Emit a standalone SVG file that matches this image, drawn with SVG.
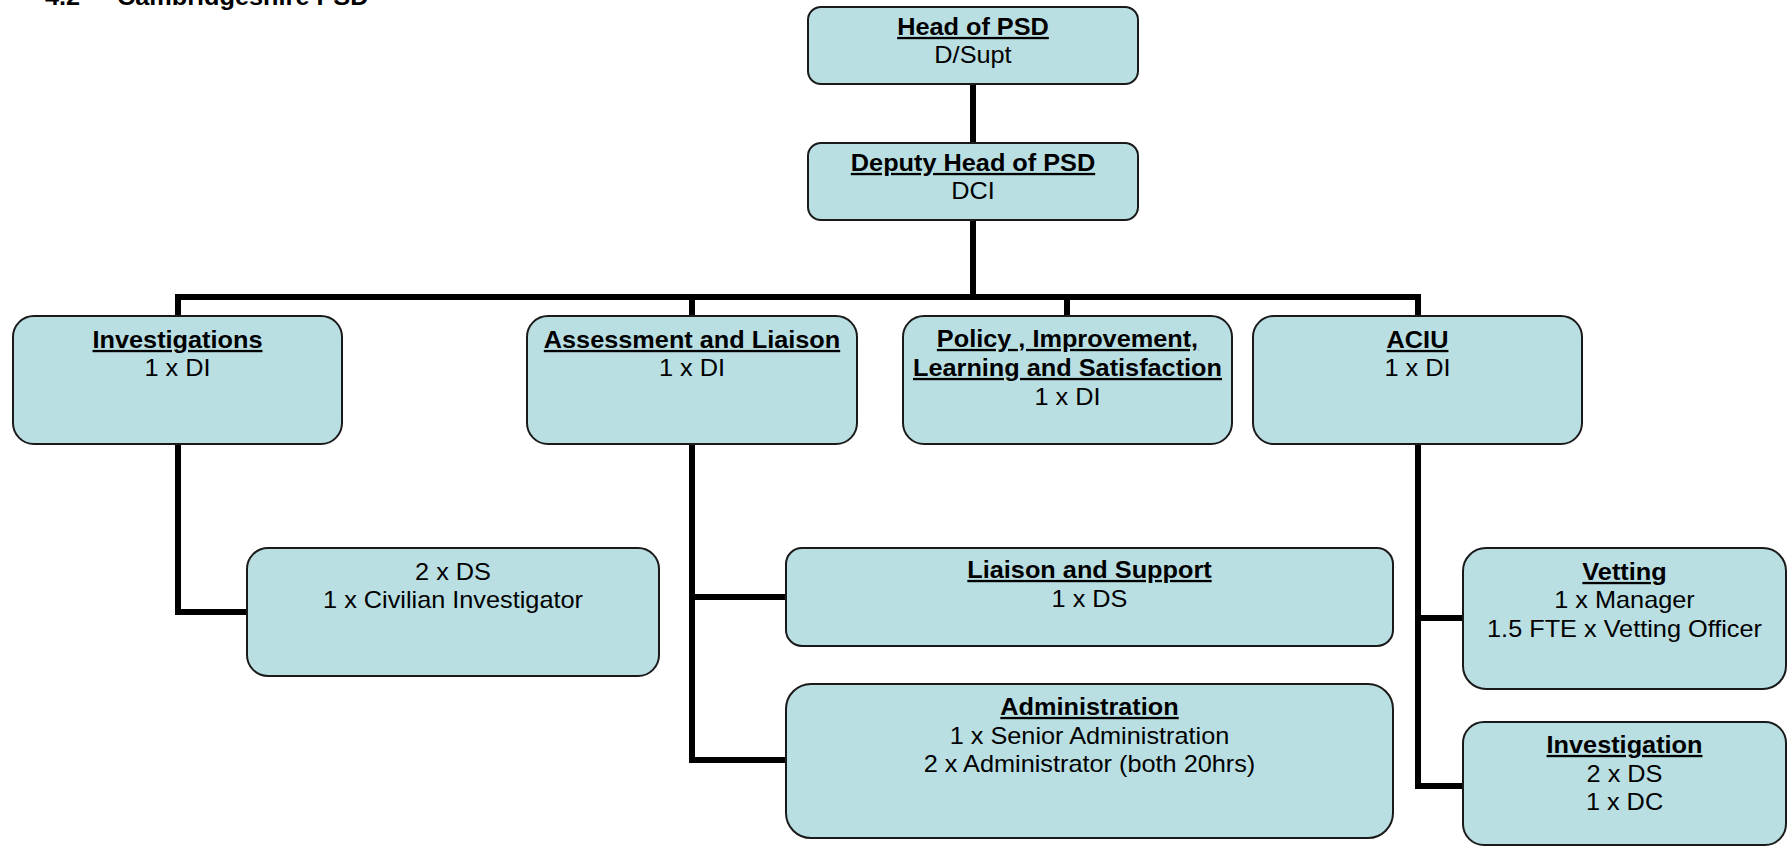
<svg xmlns="http://www.w3.org/2000/svg" width="1787" height="847" viewBox="0 0 1787 847">
<style>
.box{fill:#B9DFE3;stroke:#1a1a1a;stroke-width:2}
.t{font-family:"Liberation Sans",Arial,sans-serif;font-size:23px;fill:#000;text-anchor:middle}
.h{font-weight:bold;text-decoration:underline}
.ttl{font-family:"Liberation Sans",Arial,sans-serif;font-size:23px;font-weight:bold;fill:#000}
.c{fill:none;stroke:#000;stroke-width:6;stroke-linejoin:miter;stroke-linecap:butt}
</style>
<rect width="1787" height="847" fill="#fff"/>
<g id="title">
<text class="ttl" transform="translate(45 5) scale(1.1 1)">4.2</text>
<text class="ttl" transform="translate(117 5) scale(1.1 1)">Cambridgeshire PSD</text>
</g>
<g id="connectors">
<path class="c" d="M973,84 V143"/>
<path class="c" d="M973,220 V297"/>
<path class="c" d="M178,316 V297 H1418 V316"/>
<path class="c" d="M692,297 V316"/>
<path class="c" d="M1067,297 V316"/>
<path class="c" d="M178,444 V612 H247"/>
<path class="c" d="M692,444 V760 H786"/>
<path class="c" d="M692,597 H786"/>
<path class="c" d="M1418,444 V786 H1463"/>
<path class="c" d="M1418,618 H1463"/>
</g>
<g id="head">
<rect class="box" x="808" y="7" width="330" height="77" rx="13"/>
<g transform="translate(973 0) scale(1.1 1)"><text class="t h" x="0" y="35">Head of PSD</text><text class="t" x="0" y="63">D/Supt</text></g>
</g>
<g id="deputy">
<rect class="box" x="808" y="143" width="330" height="77" rx="13"/>
<g transform="translate(973 0) scale(1.1 1)"><text class="t h" x="0" y="171">Deputy Head of PSD</text><text class="t" x="0" y="199">DCI</text></g>
</g>
<g id="investigations">
<rect class="box" x="13" y="316" width="329" height="128" rx="21"/>
<g transform="translate(177.5 0) scale(1.1 1)"><text class="t h" x="0" y="348">Investigations</text><text class="t" x="0" y="376">1 x DI</text></g>
</g>
<g id="assessment">
<rect class="box" x="527" y="316" width="330" height="128" rx="21"/>
<g transform="translate(692 0) scale(1.1 1)"><text class="t h" x="0" y="348">Assessment and Liaison</text><text class="t" x="0" y="376">1 x DI</text></g>
</g>
<g id="policy">
<rect class="box" x="903" y="316" width="329" height="128" rx="21"/>
<g transform="translate(1067.5 0) scale(1.1 1)"><text class="t h" x="0" y="347">Policy , Improvement,</text><text class="t h" x="0" y="376">Learning and Satisfaction</text><text class="t" x="0" y="405">1 x DI</text></g>
</g>
<g id="aciu">
<rect class="box" x="1253" y="316" width="329" height="128" rx="21"/>
<g transform="translate(1417.5 0) scale(1.1 1)"><text class="t h" x="0" y="348">ACIU</text><text class="t" x="0" y="376">1 x DI</text></g>
</g>
<g id="investigations-team">
<rect class="box" x="247" y="548" width="412" height="128" rx="21"/>
<g transform="translate(453 0) scale(1.1 1)"><text class="t" x="0" y="580">2 x DS</text><text class="t" x="0" y="608">1 x Civilian Investigator</text></g>
</g>
<g id="liaison">
<rect class="box" x="786" y="548" width="607" height="98" rx="16"/>
<g transform="translate(1089.5 0) scale(1.1 1)"><text class="t h" x="0" y="578">Liaison and Support</text><text class="t" x="0" y="607">1 x DS</text></g>
</g>
<g id="administration">
<rect class="box" x="786" y="684" width="607" height="154" rx="25"/>
<g transform="translate(1089.5 0) scale(1.1 1)"><text class="t h" x="0" y="715">Administration</text><text class="t" x="0" y="744">1 x Senior Administration</text><text class="t" x="0" y="772">2 x Administrator (both 20hrs)</text></g>
</g>
<g id="vetting">
<rect class="box" x="1463" y="548" width="323" height="141" rx="23"/>
<g transform="translate(1624.5 0) scale(1.1 1)"><text class="t h" x="0" y="580">Vetting</text><text class="t" x="0" y="608">1 x Manager</text><text class="t" x="0" y="637">1.5 FTE x Vetting Officer</text></g>
</g>
<g id="investigation">
<rect class="box" x="1463" y="722" width="323" height="123" rx="21"/>
<g transform="translate(1624.5 0) scale(1.1 1)"><text class="t h" x="0" y="753">Investigation</text><text class="t" x="0" y="782">2 x DS</text><text class="t" x="0" y="810">1 x DC</text></g>
</g>
</svg>
